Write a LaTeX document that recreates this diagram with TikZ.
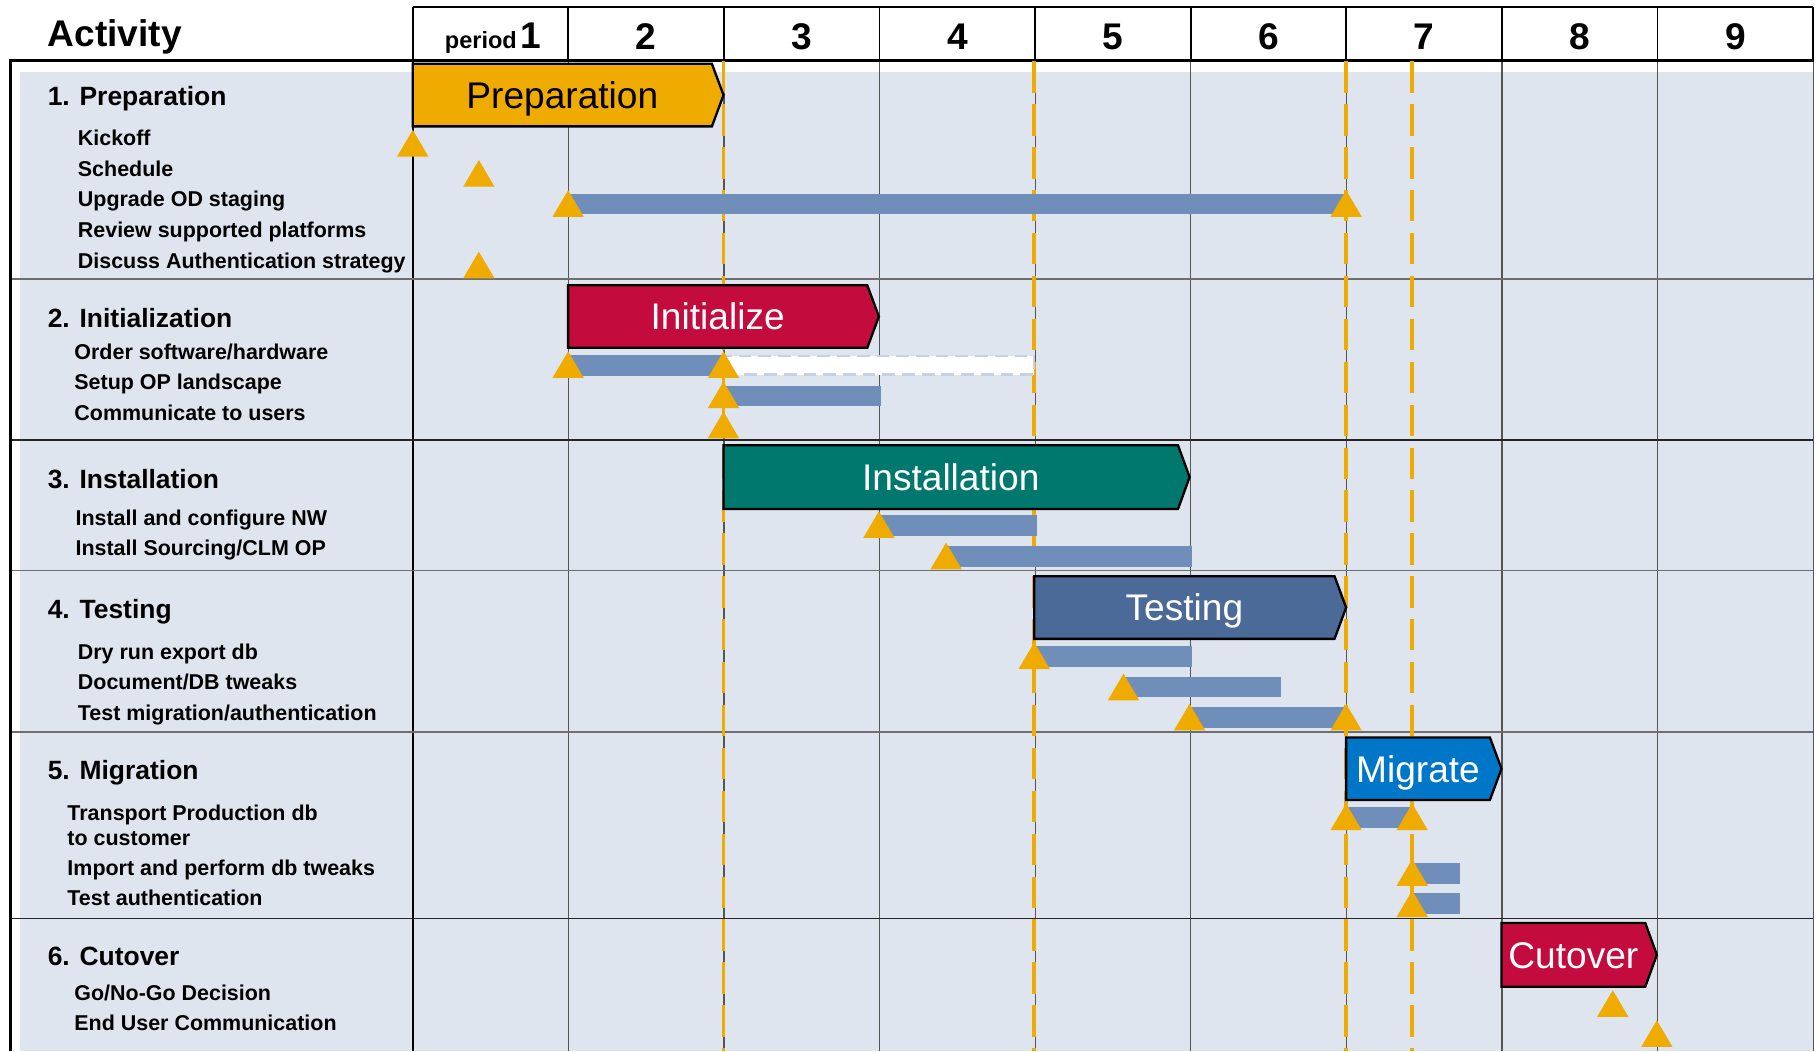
\documentclass[tikz,border=0pt]{standalone}
\usepackage{fontspec}
\setmainfont{Liberation Sans}
\definecolor{bgc}{HTML}{DFE5EF}
\definecolor{msorange}{HTML}{EFAB00}
\definecolor{barblue}{HTML}{6F8FBA}
\definecolor{gridgray}{HTML}{555555}
\definecolor{rowgray}{HTML}{6E6E6E}
\definecolor{dashblue}{HTML}{C5D1E4}
\definecolor{crimson}{HTML}{C30C3D}
\definecolor{teal}{HTML}{00786E}
\definecolor{steel}{HTML}{4B6A98}
\definecolor{azure}{HTML}{0076C8}
\newcommand{\msmark}[2]{\fill[milestone] ({#1-13.5},#2) -- (#1,{#2-23}) -- ({#1+13.5},#2) -- cycle;}
\newcommand{\phasebox}[8]{%
  \draw[phase, fill=#6] (#2,#4) -- ({#3-10},#4) -- (#3,{(#4+#5)/2}) -- ({#3-10},#5) -- (#2,#5) -- cycle;
  \node[barlabel, text=#7] (#1) at ({(#2+#3-10)/2},{(#4+#5)/2+11.5}) {#8};}
\begin{document}
\begin{tikzpicture}[x=1pt,y=-1pt,
  item/.style={anchor=base west, inner sep=0pt, font=\fontsize{18.5}{18.5}\selectfont\bfseries},
  head/.style={anchor=base west, inner sep=0pt, font=\fontsize{22.8}{22.8}\selectfont\bfseries},
  barlabel/.style={anchor=base, inner sep=0pt, font=\fontsize{32}{32}\selectfont},
  colnum/.style={anchor=base, inner sep=0pt, font=\fontsize{32}{32}\selectfont\bfseries},
  gridline/.style={draw=gridgray, line width=1pt},
  rowline/.style={draw=rowgray, line width=1.6pt},
  rowlinedark/.style={draw=black!85, line width=1.2pt},
  milestone/.style={fill=msorange},
  taskbar/.style={fill=barblue},
  phase/.style={draw=black, line width=2pt, line join=miter},
  vdash/.style={draw=msorange, line width=3pt, dash pattern=on 27pt off 10pt}]
\useasboundingbox (0,0) rectangle (1568,906.5);
\fill[white] (0,0) rectangle (1568,906.5);
% body background
\fill[bgc] (17,62) rectangle (1564,906.5);
% vertical grid lines in body
\foreach \i in {1,...,9} \draw[gridline] ({356+134.2*\i},52) -- ({356+134.2*\i},906.5);
\draw[black, line width=1.5pt] (356,52) -- (356,906.5);
% row separators
\draw[rowline] (9,241) -- (1564,241);
\draw[rowlinedark] (9,379.5) -- (1564,379.5);
\draw[rowline] (9,492) -- (1564,492);
\draw[rowline] (9,631) -- (1564,631);
\draw[rowlinedark] (9,792) -- (1564,792);
% header
\draw[black, line width=1.8pt] (356,6) -- (1564,6);
\foreach \i in {0,...,9} \draw[black, line width=1.5pt] ({356+134.2*\i},6) -- ({356+134.2*\i},52);
\draw[black, line width=2.5pt] (9,52) -- (1564.5,52);
\draw[black, line width=2pt] (9,51) -- (9,906.5);
\node[anchor=base west, inner sep=0pt, font=\fontsize{32}{32}\selectfont\bfseries] (act) at (41,40.5) {Activity};
\node[anchor=base, inner sep=0pt] (c1) at (425,42) {{\fontsize{20.3}{20.3}\selectfont\bfseries period} {\fontsize{32}{32}\selectfont\bfseries 1}};
\foreach \k in {2,...,9} \node[colnum] (c\k) at ({356+134.2*(\k-0.5)},42.5) {\k};
% milestone dashed lines
\draw[vdash] (624,53) -- (624,906.5);
\draw[vdash] (892,53) -- (892,906.5);
\draw[vdash] (1161,53) -- (1161,906.5);
\draw[vdash] (1218,53) -- (1218,906.5);
% task bars
\fill[taskbar] (490,167.5) rectangle (1161,185);
\fill[taskbar] (490,306) rectangle (624,324);
\draw[fill=white, draw=dashblue, line width=2pt, dash pattern=on 11pt off 6pt] (624,307) rectangle (892,323);
\fill[taskbar] (624,332.5) rectangle (760,350);
\fill[taskbar] (758,444) rectangle (894,462);
\fill[taskbar] (816,471) rectangle (1028,489);
\fill[taskbar] (892,557) rectangle (1028,575);
\fill[taskbar] (969,583.5) rectangle (1105,601.5);
\fill[taskbar] (1026,610) rectangle (1161,628);
\fill[taskbar] (1161,696) rectangle (1218,714);
\fill[taskbar] (1218,744.5) rectangle (1259,762);
\fill[taskbar] (1218,770) rectangle (1259,788);
% phase boxes
\phasebox{pPrep}{356}{624}{55}{109}{msorange}{black}{Preparation}
\phasebox{pInit}{490}{758}{246}{300}{crimson}{white}{Initialize}
\phasebox{pInst}{624}{1026}{384}{439}{teal}{white}{Installation}
\phasebox{pTest}{892}{1161}{497}{551}{steel}{white}{Testing}
\phasebox{pMigr}{1161}{1295}{636}{690}{azure}{white}{Migrate}
\phasebox{pCut}{1295}{1429}{796}{851}{crimson}{white}{Cutover}
% milestones
\msmark{356}{135}
\msmark{413}{161}
\msmark{490}{187}
\msmark{1161}{187}
\msmark{413}{240}
\msmark{490}{326}
\msmark{624}{326}
\msmark{624}{352}
\msmark{624}{378}
\msmark{758}{464}
\msmark{816}{491}
\msmark{892}{577}
\msmark{969}{604}
\msmark{1026}{630}
\msmark{1161}{630}
\msmark{1161}{716}
\msmark{1218}{716}
\msmark{1218}{764}
\msmark{1218}{791}
\msmark{1391}{877}
\msmark{1429}{903}
% activity texts
\node[head] (h1) at (41,90.6) {1. Preparation};
\node[item] (t11) at (67,125.5) {Kickoff};
\node[item] (t12) at (67,152) {Schedule};
\node[item] (t13) at (67,178.3) {Upgrade OD staging};
\node[item] (t14) at (67,204.7) {Review supported platforms};
\node[item] (t15) at (67,231.4) {Discuss Authentication strategy};
\node[head] (h2) at (41,282.3) {2. Initialization};
\node[item] (t21) at (64,310) {Order software/hardware};
\node[item] (t22) at (64,335.8) {Setup OP landscape};
\node[item] (t23) at (64,362.5) {Communicate to users};
\node[head] (h3) at (41,421) {3. Installation};
\node[item] (t31) at (65,453.5) {Install and configure NW};
\node[item] (t32) at (65,478.7) {Install Sourcing/CLM OP};
\node[head] (h4) at (41,533.3) {4. Testing};
\node[item] (t41) at (67,568.5) {Dry run export db};
\node[item] (t42) at (67,594.5) {Document/DB tweaks};
\node[item] (t43) at (67,621.5) {Test migration/authentication};
\node[head] (h5) at (41,672.2) {5. Migration};
\node[item] (t51) at (58,707.3) {Transport Production db};
\node[item] (t51b) at (58,728.8) {to customer};
\node[item] (t52) at (58,754.8) {Import and perform db tweaks};
\node[item] (t53) at (58,780.8) {Test authentication};
\node[head] (h6) at (41,833) {6. Cutover};
\node[item] (t61) at (64,862.5) {Go/No-Go Decision};
\node[item] (t62) at (64,888.5) {End User Communication};
\end{tikzpicture}
\end{document}
